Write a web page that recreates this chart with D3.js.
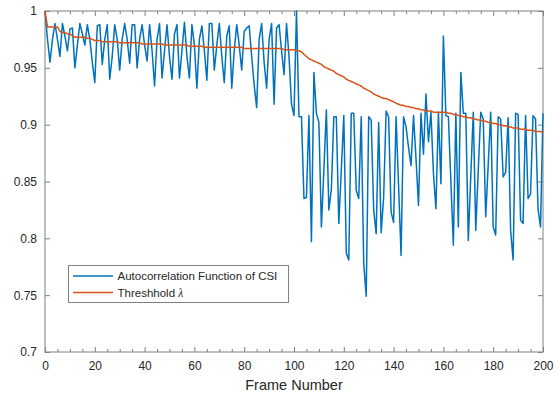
<!DOCTYPE html>
<html>
<head>
<meta charset="utf-8">
<script src="https://cdn.jsdelivr.net/npm/d3@7"></script>
<style>
  body { margin: 0; background: #fff; }
  text { font-family: "Liberation Sans", Arial, Helvetica, sans-serif; fill: #262626; }
</style>
</head>
<body>
<div id="chart"></div>
<script>
// autocorrelation of CSI, one value per frame (0..200)
var acf = [
  1.000, 0.975, 0.955, 0.975, 0.989, 0.975, 0.960, 0.989, 0.978, 0.965,
  0.984, 0.985, 0.950, 0.970, 0.989, 0.980, 0.970, 0.988, 0.975, 0.955,
  0.937, 0.987, 0.988, 0.953, 0.975, 0.988, 0.940, 0.960, 0.988, 0.975,
  0.948, 0.975, 0.989, 0.975, 0.954, 0.988, 0.988, 0.950, 0.975, 0.988,
  0.970, 0.956, 0.988, 0.965, 0.934, 0.975, 0.989, 0.941, 0.965, 0.988,
  0.960, 0.940, 0.980, 0.988, 0.941, 0.965, 0.990, 0.960, 0.941, 0.988,
  0.970, 0.932, 0.975, 0.987, 0.965, 0.939, 0.989, 0.989, 0.948, 0.970,
  0.989, 0.960, 0.937, 0.978, 0.987, 0.932, 0.965, 0.988, 0.970, 0.948,
  0.982, 0.985, 0.987, 0.960, 0.935, 0.915, 0.975, 0.989, 0.955, 0.932,
  0.975, 0.989, 0.918, 0.985, 0.988, 0.965, 0.944, 0.989, 0.960, 0.918,
  0.908, 1.000, 0.907, 0.907, 0.835, 0.836, 0.908, 0.797, 0.946, 0.910,
  0.902, 0.810, 0.860, 0.913, 0.825, 0.843, 0.907, 0.907, 0.813, 0.860,
  0.908, 0.787, 0.781, 0.910, 0.910, 0.842, 0.835, 0.907, 0.778, 0.749,
  0.907, 0.904, 0.825, 0.804, 0.902, 0.805, 0.836, 0.912, 0.907, 0.823,
  0.814, 0.907, 0.846, 0.785, 0.907, 0.898, 0.880, 0.864, 0.908, 0.870,
  0.829, 0.910, 0.874, 0.927, 0.885, 0.911, 0.857, 0.826, 0.911, 0.848,
  0.978, 0.908, 0.907, 0.850, 0.794, 0.910, 0.810, 0.946, 0.910, 0.910,
  0.798, 0.855, 0.911, 0.807, 0.860, 0.911, 0.905, 0.819, 0.865, 0.911,
  0.810, 0.803, 0.907, 0.905, 0.854, 0.858, 0.906, 0.807, 0.781, 0.910,
  0.909, 0.816, 0.813, 0.908, 0.835, 0.839, 0.908, 0.905, 0.826, 0.810,
  0.910
];

// threshold lambda, one value per frame (0..200)
var threshold = [
  1.000, 0.986, 0.986, 0.986, 0.986, 0.986, 0.982, 0.981, 0.981, 0.980,
  0.980, 0.978, 0.977, 0.977, 0.977, 0.977, 0.977, 0.976, 0.976, 0.975,
  0.974, 0.974, 0.974, 0.973, 0.973, 0.973, 0.973, 0.973, 0.973, 0.973,
  0.972, 0.972, 0.972, 0.972, 0.972, 0.972, 0.972, 0.972, 0.972, 0.971,
  0.971, 0.971, 0.971, 0.971, 0.971, 0.971, 0.971, 0.971, 0.970, 0.970,
  0.970, 0.970, 0.970, 0.970, 0.970, 0.970, 0.970, 0.970, 0.969, 0.969,
  0.969, 0.969, 0.969, 0.969, 0.968, 0.968, 0.968, 0.968, 0.968, 0.968,
  0.968, 0.968, 0.968, 0.968, 0.968, 0.968, 0.968, 0.968, 0.968, 0.968,
  0.967, 0.967, 0.967, 0.967, 0.967, 0.967, 0.967, 0.967, 0.967, 0.967,
  0.967, 0.967, 0.967, 0.967, 0.967, 0.967, 0.966, 0.966, 0.966, 0.966,
  0.966, 0.965, 0.965, 0.964, 0.962, 0.960, 0.958, 0.957, 0.956, 0.955,
  0.954, 0.953, 0.951, 0.950, 0.949, 0.948, 0.947, 0.945, 0.944, 0.943,
  0.942, 0.940, 0.939, 0.938, 0.937, 0.936, 0.935, 0.934, 0.932, 0.931,
  0.930, 0.929, 0.927, 0.926, 0.925, 0.924, 0.923, 0.923, 0.922, 0.921,
  0.920, 0.919, 0.918, 0.917, 0.917, 0.916, 0.916, 0.915, 0.915, 0.914,
  0.914, 0.913, 0.913, 0.912, 0.912, 0.912, 0.911, 0.911, 0.911, 0.911,
  0.911, 0.911, 0.910, 0.910, 0.909, 0.909, 0.908, 0.908, 0.907, 0.907,
  0.906, 0.906, 0.905, 0.905, 0.904, 0.904, 0.903, 0.903, 0.902, 0.902,
  0.901, 0.901, 0.900, 0.900, 0.899, 0.899, 0.898, 0.898, 0.897, 0.897,
  0.897, 0.896, 0.896, 0.896, 0.895, 0.895, 0.895, 0.894, 0.894, 0.894,
  0.893
];

var xTicks = [0, 20, 40, 60, 80, 100, 120, 140, 160, 180, 200];
var yTicks = [0.7, 0.75, 0.8, 0.85, 0.9, 0.95, 1];
var seriesNames = ["Autocorrelation Function of CSI", "Threshhold "];

var width = 559, height = 396;
var margin = {left: 45, right: 16, top: 11, bottom: 44};
var plotW = width - margin.left - margin.right;
var plotH = height - margin.top - margin.bottom;

var svg = d3.select("#chart").append("svg")
  .attr("width", width)
  .attr("height", height);

var x = d3.scaleLinear().domain([0, 200]).range([0, plotW]);
var y = d3.scaleLinear().domain([0.7, 1]).range([plotH, 0]);

var g = svg.append("g")
  .attr("transform", "translate(" + margin.left + "," + margin.top + ")");

var axisColor = "#808080";
var minorTicks = d3.range(0, 201, 5).filter(function(d){ return d % 20 != 0; });

// ticks pointing inward, like matlab, on all 4 sides
var xAxisB = d3.axisBottom(x).tickValues(xTicks).tickSizeInner(-5).tickSizeOuter(0).tickPadding(9);
var xAxisT = d3.axisTop(x).tickValues(xTicks).tickSizeInner(-5).tickSizeOuter(0).tickFormat("");
var yAxisL = d3.axisLeft(y).tickValues(yTicks).tickSizeInner(-5).tickSizeOuter(0).tickPadding(8)
  .tickFormat(function(d){ return d3.format("")(+d.toFixed(2)); });
var yAxisR = d3.axisRight(y).tickValues(yTicks).tickSizeInner(-5).tickSizeOuter(0).tickFormat("");

g.append("g").attr("class", "axis").attr("transform", "translate(0," + plotH + ")").call(xAxisB);
g.append("g").attr("class", "axis").call(xAxisT);
g.append("g").attr("class", "axis").call(yAxisL);
g.append("g").attr("class", "axis").attr("transform", "translate(" + plotW + ",0)").call(yAxisR);

// minor x ticks
g.append("g").attr("class", "axis").attr("transform", "translate(0," + plotH + ")")
  .call(d3.axisBottom(x).tickValues(minorTicks).tickSizeInner(-3).tickSizeOuter(0).tickFormat(""));
g.append("g").attr("class", "axis")
  .call(d3.axisTop(x).tickValues(minorTicks).tickSizeInner(-3).tickSizeOuter(0).tickFormat(""));

g.selectAll(".axis path").remove();
g.selectAll(".axis line").attr("stroke", axisColor);
g.selectAll(".axis text").attr("font-size", 12).attr("fill", "#262626")
  .attr("font-family", "Liberation Sans, Arial, sans-serif");

// box
g.append("rect")
  .attr("x", 0).attr("y", 0)
  .attr("width", plotW).attr("height", plotH)
  .attr("fill", "none")
  .attr("stroke", axisColor)
  .attr("stroke-width", 1);

var line = d3.line()
  .x(function(d, i){ return x(i); })
  .y(function(d){ return y(d); });

g.append("path")
  .datum(acf)
  .attr("fill", "none")
  .attr("stroke", "#0072BD")
  .attr("stroke-width", 1.5)
  .attr("stroke-linejoin", "round")
  .attr("d", line);

g.append("path")
  .datum(threshold)
  .attr("fill", "none")
  .attr("stroke", "#D95319")
  .attr("stroke-width", 1.5)
  .attr("stroke-linejoin", "round")
  .attr("d", line);

// x label
svg.append("text")
  .attr("x", margin.left + plotW / 2)
  .attr("y", 390)
  .attr("text-anchor", "middle")
  .attr("font-size", 14.5)
  .text("Frame Number");

// legend
var leg = svg.append("g").attr("transform", "translate(68,265)");
leg.append("rect")
  .attr("x", 0.5).attr("y", 0.5)
  .attr("width", 220).attr("height", 37)
  .attr("fill", "#fff")
  .attr("stroke", axisColor);

var legColors = ["#0072BD", "#D95319"];
seriesNames.forEach(function(name, i){
  var yy = 11 + i * 16.5;
  leg.append("line")
    .attr("x1", 5).attr("x2", 45)
    .attr("y1", yy).attr("y2", yy)
    .attr("stroke", legColors[i])
    .attr("stroke-width", 1.5);
  var t = leg.append("text")
    .attr("x", 49.5).attr("y", yy + 4)
    .attr("font-size", 11.5)
    .text(name);
  if (i == 1) {
    t.append("tspan").attr("font-family", "Liberation Serif, Times New Roman, serif")
      .attr("font-style", "italic").text("λ");
  }
});
</script>
</body>
</html>
